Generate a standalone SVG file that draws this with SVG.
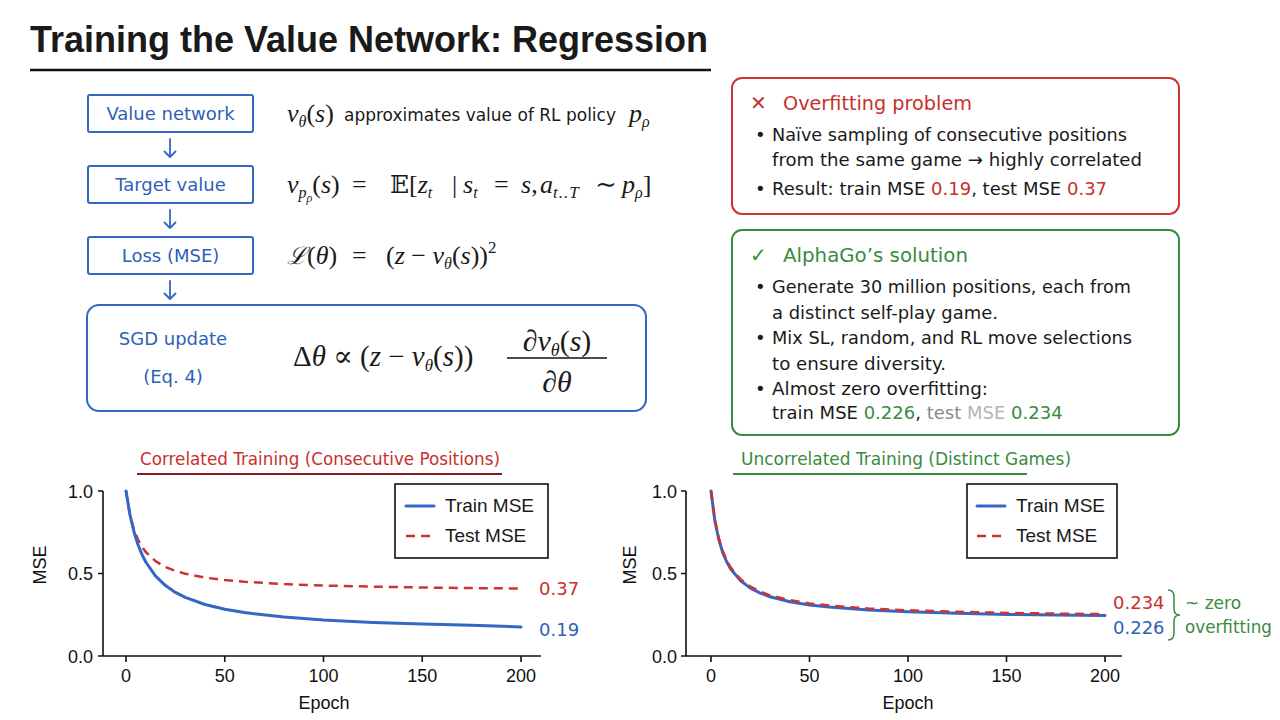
<svg xmlns="http://www.w3.org/2000/svg" width="1280" height="720" viewBox="0 0 1280 720">
<defs>
<style>
.sans{font-family:"DejaVu Sans","Liberation Sans",sans-serif;}
.lsans{font-family:"Liberation Sans","DejaVu Sans",sans-serif;}
.math{font-family:"Liberation Serif","DejaVu Serif",serif;font-style:italic;}
.up{font-style:normal;}
.blue{fill:#2f5fb8;}
.red{fill:#c8302c;}
.green{fill:#3a8a40;}
.dark{fill:#1a1a1a;}
.box{fill:#fff;stroke:#3466c4;stroke-width:2;}
.arrow{fill:none;stroke:#3466c4;stroke-width:1.8;stroke-linecap:round;stroke-linejoin:round;}
.axis{fill:none;stroke:#111;stroke-width:1.6;}
.tick{font-size:18px;fill:#111;}
.train{fill:none;stroke:#3466c4;stroke-width:3;stroke-linejoin:round;stroke-linecap:round;}
.test{fill:none;stroke:#cc3333;stroke-width:2.5;stroke-dasharray:9 6;stroke-linejoin:round;}
</style>
</defs>
<rect width="1280" height="720" fill="#ffffff"/>

<g id="title">
<text x="30" y="52" class="lsans dark" font-size="36" font-weight="bold" textLength="678" lengthAdjust="spacingAndGlyphs">Training the Value Network: Regression</text>
<line x1="30" y1="70" x2="711" y2="70" stroke="#111" stroke-width="2.5"/>
</g>

<g id="node-value-network">
<rect x="88" y="95" width="165" height="37" rx="2" class="box"/>
<text x="170.5" y="120" class="sans blue" font-size="18" text-anchor="middle">Value network</text>
</g>
<g id="node-target-value">
<rect x="88" y="166" width="165" height="37" rx="2" class="box"/>
<text x="170.5" y="191" class="sans blue" font-size="18" text-anchor="middle">Target value</text>
</g>
<g id="node-loss">
<rect x="88" y="237" width="165" height="37" rx="2" class="box"/>
<text x="170.5" y="262" class="sans blue" font-size="18" text-anchor="middle">Loss (MSE)</text>
</g>
<g id="node-sgd">
<rect x="87" y="305" width="559" height="106" rx="12" class="box"/>
<text x="173" y="345" class="sans blue" font-size="18" text-anchor="middle">SGD update</text>
<text x="173" y="383" class="sans blue" font-size="18" text-anchor="middle">(Eq. 4)</text>
<text x="293" y="366" class="math dark" font-size="29"><tspan class="up">Δ</tspan>θ <tspan class="up">∝ (</tspan>z <tspan class="up">−</tspan> v<tspan font-size="17" dy="5">θ</tspan><tspan class="up" dy="-5">(</tspan>s<tspan class="up">))</tspan></text>
<text x="557" y="351" class="math dark" font-size="30" text-anchor="middle"><tspan class="up">∂</tspan>v<tspan font-size="18" dy="5">θ</tspan><tspan class="up" dy="-5">(</tspan>s<tspan class="up">)</tspan></text>
<line x1="507" y1="358" x2="607" y2="358" stroke="#111" stroke-width="1.6"/>
<text x="557" y="392" class="math dark" font-size="30" text-anchor="middle"><tspan class="up">∂</tspan>θ</text>
</g>

<g id="connectors">
<path class="arrow" d="M170 139 V157 M164.5 151.5 L170 157 L175.5 151.5"/>
<path class="arrow" d="M170 210 V228 M164.5 222.5 L170 228 L175.5 222.5"/>
<path class="arrow" d="M170 281 V299 M164.5 293.5 L170 299 L175.5 293.5"/>
</g>

<g id="formulas">
<text x="287" y="122" class="dark" font-size="18"><tspan class="math" font-size="26">v</tspan><tspan class="math" font-size="16" dy="5">θ</tspan><tspan class="math up" font-size="26" dy="-5">(</tspan><tspan class="math" font-size="26">s</tspan><tspan class="math up" font-size="26">)</tspan></text>
<text x="344" y="121" class="sans dark" font-size="17" textLength="272" lengthAdjust="spacingAndGlyphs">approximates value of RL policy</text>
<text x="629" y="122" class="math dark" font-size="26">p<tspan font-size="16" dy="5">ρ</tspan></text>

<text y="193" class="math dark" font-size="26"><tspan x="287">v</tspan><tspan font-size="16" dy="5">p</tspan><tspan font-size="12" dy="4">ρ</tspan><tspan class="up" dy="-9">(</tspan>s<tspan class="up">)</tspan><tspan class="up" x="352">=</tspan><tspan class="up" x="390" font-family="DejaVu Serif, DejaVu Sans, serif" font-size="25">𝔼</tspan><tspan class="up">[</tspan>z<tspan font-size="16" dy="5">t</tspan><tspan class="up" x="452" dy="-5">|</tspan><tspan x="463">s</tspan><tspan font-size="16" dy="5">t</tspan><tspan class="up" x="494" dy="-5">=</tspan><tspan x="521">s</tspan><tspan class="up">,</tspan><tspan x="540">a</tspan><tspan font-size="17" dy="5" letter-spacing="1">t..T</tspan><tspan class="up" x="595" dy="-5">∼</tspan><tspan x="622">p</tspan><tspan font-size="16" dy="5">ρ</tspan><tspan class="up" dy="-5">]</tspan></text>

<text y="264" class="math dark" font-size="26"><tspan x="287" font-family="DejaVu Serif, serif" font-size="24">ℒ</tspan><tspan class="up">(</tspan>θ<tspan class="up">)</tspan><tspan class="up" x="352">=</tspan><tspan class="up" x="386">(</tspan>z <tspan class="up">−</tspan> v<tspan font-size="16" dy="5">θ</tspan><tspan class="up" dy="-5">(</tspan>s<tspan class="up">))</tspan><tspan class="up" font-size="17" dy="-11">2</tspan></text>
</g>

<g id="overfitting-box">
<rect x="732" y="78" width="447" height="136" rx="10" fill="#fff" stroke="#cc3333" stroke-width="2"/>
<text x="750" y="110" class="sans red" font-size="20">✕</text>
<text x="783" y="110" class="sans red" font-size="20" textLength="189" lengthAdjust="spacingAndGlyphs">Overfitting problem</text>
<g class="sans dark" font-size="18">
<text x="755" y="141">•</text><text x="772" y="141" textLength="355" lengthAdjust="spacingAndGlyphs">Naïve sampling of consecutive positions</text>
<text x="772" y="166" textLength="370" lengthAdjust="spacingAndGlyphs">from the same game → highly correlated</text>
<text x="755" y="195">•</text><text x="772" y="195">Result: train MSE <tspan class="red">0.19</tspan>, test MSE <tspan class="red">0.37</tspan></text>
</g>
</g>

<g id="solution-box">
<rect x="732" y="230" width="447" height="205" rx="10" fill="#fff" stroke="#3a8a40" stroke-width="2"/>
<text x="750" y="262" class="sans green" font-size="20" font-weight="bold">✓</text>
<text x="783" y="262" class="sans green" font-size="20" textLength="185" lengthAdjust="spacingAndGlyphs">AlphaGo’s solution</text>
<g class="sans dark" font-size="18">
<text x="755" y="293">•</text><text x="772" y="293" textLength="359" lengthAdjust="spacingAndGlyphs">Generate 30 million positions, each from</text>
<text x="772" y="319" textLength="226" lengthAdjust="spacingAndGlyphs">a distinct self-play game.</text>
<text x="755" y="344">•</text><text x="772" y="344" textLength="360" lengthAdjust="spacingAndGlyphs">Mix SL, random, and RL move selections</text>
<text x="772" y="370" textLength="174" lengthAdjust="spacingAndGlyphs">to ensure diversity.</text>
<text x="755" y="395">•</text><text x="772" y="395" textLength="216" lengthAdjust="spacingAndGlyphs">Almost zero overfitting:</text>
<text x="772" y="419">train MSE <tspan class="green">0.226</tspan>, <tspan fill="#8a8a8a">test</tspan> <tspan fill="#b5b5b5">MSE</tspan> <tspan class="green">0.234</tspan></text>
</g>
</g>

<g id="chart-correlated">
<text x="140" y="465" class="sans red" font-size="17" textLength="360" lengthAdjust="spacingAndGlyphs">Correlated Training (Consecutive Positions)</text>
<line x1="137" y1="474" x2="502" y2="474" stroke="#8b1a1a" stroke-width="2"/>
<path class="axis" d="M103 491 V656 H541 M98 491 H103 M98 573.5 H103 M98 656 H103 M126 656 V662 M224.75 656 V662 M323.5 656 V662 M422.25 656 V662 M521 656 V662"/>
<g class="lsans tick" text-anchor="end">
<text x="93" y="498">1.0</text><text x="93" y="580">0.5</text><text x="93" y="663">0.0</text>
</g>
<g class="lsans tick" text-anchor="middle">
<text x="126" y="682">0</text><text x="224.75" y="682">50</text><text x="323.5" y="682">100</text><text x="422.25" y="682">150</text><text x="521" y="682">200</text>
<text x="324" y="709">Epoch</text>
<text transform="translate(46 565) rotate(-90)">MSE</text>
</g>
<polyline class="test" points="126,491 129.95,514.7 133.9,529.3 137.85,539.3 141.8,546.5 145.75,552 155.6,561.2 165.5,567 175.4,570.9 185.25,573.7 205,577.6 224.75,580.1 244.5,581.8 284,584.1 323.5,585.5 372.9,586.7 422.25,587.5 471.6,588.1 521,588.5"/>
<polyline class="train" points="126,491 129.95,514.6 133.9,531.5 137.85,544.2 141.8,554.1 145.75,562 155.6,576.1 165.5,585.6 175.4,592.4 185.25,597.4 205,604.5 224.75,609.3 244.5,612.6 284,617.1 323.5,620 372.9,622.4 422.25,624 471.6,625.2 521,627"/>
<text x="539" y="595" class="sans red" font-size="18">0.37</text>
<text x="539" y="636" class="sans blue" font-size="18">0.19</text>
<rect x="395" y="484" width="153" height="74" fill="#fff" stroke="#111" stroke-width="1.6"/>
<line x1="406" y1="506" x2="434" y2="506" class="train"/>
<line x1="406" y1="536" x2="434" y2="536" class="test" stroke-dasharray="7 5"/>
<text x="445" y="512" class="lsans dark" font-size="19">Train MSE</text>
<text x="445" y="542" class="lsans dark" font-size="19">Test MSE</text>
</g>

<g id="chart-uncorrelated">
<text x="741" y="465" class="sans green" font-size="17" textLength="330" lengthAdjust="spacingAndGlyphs">Uncorrelated Training (Distinct Games)</text>
<line x1="733" y1="474" x2="1027" y2="474" stroke="#3a8a40" stroke-width="2"/>
<path class="axis" d="M686 491 V656 H1122 M681 491 H686 M681 573.5 H686 M681 656 H686 M711 656 V662 M809.5 656 V662 M908 656 V662 M1006.5 656 V662 M1105 656 V662"/>
<g class="lsans tick" text-anchor="end">
<text x="677" y="498">1.0</text><text x="677" y="580">0.5</text><text x="677" y="663">0.0</text>
</g>
<g class="lsans tick" text-anchor="middle">
<text x="711" y="682">0</text><text x="809.5" y="682">50</text><text x="908" y="682">100</text><text x="1006.5" y="682">150</text><text x="1105" y="682">200</text>
<text x="908" y="709">Epoch</text>
<text transform="translate(636 565) rotate(-90)">MSE</text>
</g>
<polyline class="train" points="711,491 714.9,521.3 718.9,540 722.8,552.8 726.8,562 730.7,569 740.6,580.8 750.4,588.1 760.3,593.1 770.1,596.8 789.8,601.7 809.5,604.9 829.2,607.1 868.6,610 908,611.8 957.3,613.3 1006.5,614.4 1055.8,615.1 1105,615.6"/>
<polyline class="test" points="711,491 714.9,520 718.9,538.5 722.8,551.3 726.8,560.5 730.7,567.5 740.6,579.3 750.4,586.6 760.3,591.6 770.1,595.3 789.8,600.2 809.5,603.4 829.2,605.6 868.6,608.5 908,610.3 957.3,611.8 1006.5,612.9 1055.8,613.6 1105,614.1"/>
<text x="1113" y="609" class="sans red" font-size="18">0.234</text>
<text x="1113" y="634" class="sans blue" font-size="18">0.226</text>
<path d="M1168 590 Q1174 590 1174 597 V609 Q1174 615 1180 615 Q1174 615 1174 621 V633 Q1174 640 1168 640" fill="none" stroke="#3a8a40" stroke-width="1.5"/>
<text x="1185" y="609" class="sans green" font-size="17">~ zero</text>
<text x="1185" y="633" class="sans green" font-size="17" textLength="87" lengthAdjust="spacingAndGlyphs">overfitting</text>
<rect x="967" y="484" width="150" height="74" fill="#fff" stroke="#111" stroke-width="1.6"/>
<line x1="977" y1="506" x2="1005" y2="506" class="train"/>
<line x1="977" y1="536" x2="1005" y2="536" class="test" stroke-dasharray="7 5"/>
<text x="1016" y="512" class="lsans dark" font-size="19">Train MSE</text>
<text x="1016" y="542" class="lsans dark" font-size="19">Test MSE</text>
</g>
</svg>
